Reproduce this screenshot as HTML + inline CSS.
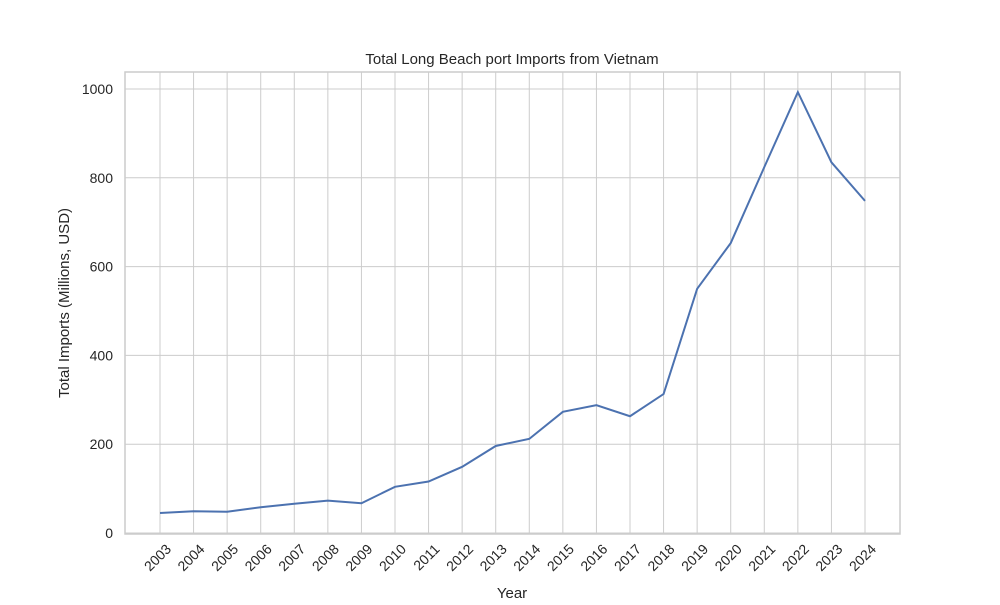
<!DOCTYPE html>
<html><head><meta charset="utf-8"><style>
body{margin:0;background:#fff;font-family:"Liberation Sans","DejaVu Sans",sans-serif}
</style></head><body>
<svg id="chart" width="1000" height="600" xmlns="http://www.w3.org/2000/svg" font-family="Liberation Sans, DejaVu Sans, sans-serif"></svg>
<script>
const years=[2003,2004,2005,2006,2007,2008,2009,2010,2011,2012,2013,2014,2015,2016,2017,2018,2019,2020,2021,2022,2023,2024];
const imports=[45,49,48,58,66,73,67,104,116,149,196,212,273,288,263,313,550,653,824,993,835,748];
const yTicks=[0,200,400,600,800,1000];
const svg=document.getElementById('chart');
const NS='http://www.w3.org/2000/svg';
const L=125,R=900,T=72,B=534;
const x=i=>160+i*(865-160)/(years.length-1);
const y=v=>533-v*0.444;
function el(t,a,p){const e=document.createElementNS(NS,t);for(const k in a)e.setAttribute(k,a[k]);(p||svg).appendChild(e);return e;}
const grid=el('g',{});


yTicks.forEach(v=>{
 el('line',{x1:L,x2:R,y1:y(v),y2:y(v),stroke:'#cccccc','stroke-width':1},grid);
 const t=el('text',{x:L-12,y:y(v)+5,'text-anchor':'end','font-size':14,fill:'#262626'});
 t.textContent=v;
 
 
});
years.forEach((yr,i)=>{
 el('line',{x1:x(i),x2:x(i),y1:T,y2:B,stroke:'#cccccc','stroke-width':1},grid);
 const ax=x(i)+12, ay=B+16;
 const t=el('text',{x:ax,y:ay,'text-anchor':'end','font-size':14,fill:'#262626',transform:`rotate(-45 ${ax} ${ay})`});
 t.textContent=yr;
 
 
});
const frame=el('rect',{x:L,y:T,width:R-L,height:B-T,fill:'none',stroke:'#cccccc','stroke-width':1.5});


const line=el('polyline',{points:imports.map((v,i)=>x(i)+','+y(v)).join(' '),fill:'none',stroke:'#4c72b0','stroke-width':2});


const title=el('text',{x:512,y:64,'text-anchor':'middle','font-size':15,fill:'#262626'});
title.textContent='Total Long Beach port Imports from Vietnam';


const xt=el('text',{x:512,y:598,'text-anchor':'middle','font-size':15,fill:'#262626'});
xt.textContent='Year';


const yt=el('text',{x:69,y:303,'text-anchor':'middle','font-size':15,fill:'#262626',transform:'rotate(-90 69 303)'});
yt.textContent='Total Imports (Millions, USD)';


</script>
</body></html>
